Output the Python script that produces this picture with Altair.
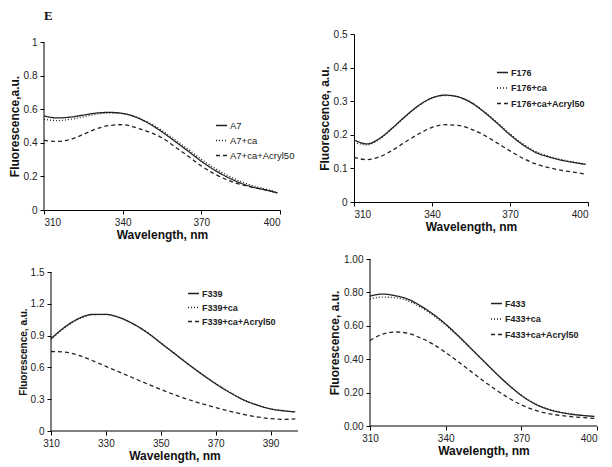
import altair as alt
import pandas as pd

WL = [310, 315, 320, 325, 330, 335, 340, 345, 350, 355, 360, 365, 370, 375, 380, 385, 390, 395, 399]

# Panel 1 (A7)
A7_NAMES = ["A7", "A7+ca", "A7+ca+Acryl50"]
A7 = [0.56, 0.548, 0.553, 0.565, 0.577, 0.581, 0.575, 0.553, 0.515, 0.465, 0.408, 0.35, 0.29, 0.238, 0.195, 0.16, 0.135, 0.118, 0.102]
A7_CA = [0.54, 0.532, 0.54, 0.555, 0.57, 0.577, 0.573, 0.554, 0.52, 0.473, 0.418, 0.361, 0.302, 0.25, 0.206, 0.17, 0.143, 0.123, 0.105]
A7_AC = [0.415, 0.408, 0.42, 0.45, 0.483, 0.503, 0.508, 0.49, 0.465, 0.43, 0.375, 0.32, 0.262, 0.215, 0.178, 0.152, 0.133, 0.118, 0.102]

# Panel 2 (F176)
F176_NAMES = ["F176", "F176+ca", "F176+ca+Acryl50"]
F176 = [0.185, 0.173, 0.19, 0.222, 0.257, 0.288, 0.31, 0.318, 0.313, 0.296, 0.268, 0.235, 0.2, 0.17, 0.147, 0.134, 0.124, 0.117, 0.112]
F176_CA = [0.178, 0.17, 0.188, 0.22, 0.255, 0.287, 0.309, 0.317, 0.313, 0.297, 0.27, 0.237, 0.203, 0.173, 0.15, 0.136, 0.126, 0.118, 0.113]
F176_AC = [0.133, 0.126, 0.135, 0.155, 0.18, 0.203, 0.222, 0.23, 0.228, 0.217, 0.199, 0.176, 0.152, 0.13, 0.113, 0.102, 0.094, 0.088, 0.083]

# Panel 3 (F339)
F339_NAMES = ["F339", "F339+ca", "F339+ca+Acryl50"]
F339 = [0.87, 0.98, 1.06, 1.1, 1.1, 1.07, 1.01, 0.93, 0.83, 0.73, 0.63, 0.535, 0.445, 0.365, 0.295, 0.245, 0.208, 0.19, 0.18]
F339_CA = [0.865, 0.975, 1.055, 1.095, 1.098, 1.068, 1.008, 0.93, 0.832, 0.733, 0.633, 0.538, 0.448, 0.368, 0.298, 0.247, 0.21, 0.19, 0.18]
F339_AC = [0.75, 0.745, 0.715, 0.665, 0.61, 0.555, 0.5, 0.445, 0.392, 0.342, 0.297, 0.257, 0.222, 0.188, 0.158, 0.133, 0.117, 0.11, 0.115]

# Panel 4 (F433)
F433_NAMES = ["F433", "F433+ca", "F433+ca+Acryl50"]
F433 = [0.778, 0.79, 0.78, 0.76, 0.72, 0.67, 0.61, 0.54, 0.465, 0.39, 0.315, 0.245, 0.183, 0.135, 0.103, 0.083, 0.07, 0.062, 0.057]
F433_CA = [0.76, 0.772, 0.768, 0.75, 0.712, 0.663, 0.604, 0.536, 0.463, 0.389, 0.315, 0.246, 0.185, 0.138, 0.105, 0.085, 0.072, 0.063, 0.058]
F433_AC = [0.512, 0.55, 0.563, 0.555, 0.528, 0.49, 0.44, 0.385, 0.327, 0.27, 0.216, 0.167, 0.127, 0.097, 0.077, 0.064, 0.056, 0.05, 0.046]

X_TICKS_A = [310, 340, 370, 400]
X_TICKS_B = [310, 330, 350, 370, 390]
Y_TICKS_1 = [0, 0.2, 0.4, 0.6, 0.8, 1.0]
Y_TICKS_2 = [0, 0.1, 0.2, 0.3, 0.4, 0.5]
Y_TICKS_3 = [0, 0.3, 0.6, 0.9, 1.2, 1.5]
Y_TICKS_4 = [0, 0.2, 0.4, 0.6, 0.8, 1.0]

X_MIN, X_MAX = 310, 400
DASHES = [[1, 0], [1, 2], [4, 3]]
FONT = "Liberation Sans"
INK = "#222222"


def long_df(names, series):
    rows = []
    for n, vals in zip(names, series):
        for w, v in zip(WL, vals):
            rows.append({"wl": w, "val": v, "series": n})
    return pd.DataFrame(rows)


def panel(names, series, yticks, xticks, yfmt, ytitle, ytitle_size,
          plot_w, plot_h, ext_left, ext_top, legend_xy, legend_row_pad,
          legend_weight, legend_size, title=None):
    ymax = yticks[-1]
    cell_w = plot_w + ext_left
    cell_h = plot_h + ext_top
    xlo = X_MIN - ext_left * (X_MAX - X_MIN) / plot_w
    yhi = ymax + ext_top * ymax / plot_h
    hide_x = ext_left > 0
    hide_y = ext_top > 0 or ext_left > 0

    df = long_df(names, series)
    xscale = alt.Scale(domain=[xlo, X_MAX], nice=False, zero=False)
    yscale = alt.Scale(domain=[0, yhi], nice=False, zero=False)
    xaxis = alt.Axis(values=xticks, title="Wavelength, nm", domain=not hide_x,
                     format="d", titleX=ext_left + plot_w / 2)
    yaxis = alt.Axis(values=yticks, title=ytitle, format=yfmt, domain=not hide_y,
                     offset=-ext_left, titleFontSize=ytitle_size,
                     titleY=ext_top + plot_h / 2)

    lines = alt.Chart(df).mark_line(
        interpolate="monotone", color=INK, strokeWidth=1.3
    ).encode(
        x=alt.X("wl:Q", scale=xscale, axis=xaxis),
        y=alt.Y("val:Q", scale=yscale, axis=yaxis),
        strokeDash=alt.StrokeDash(
            "series:N",
            scale=alt.Scale(domain=names, range=DASHES),
            legend=alt.Legend(
                title=None, orient="none", legendX=legend_xy[0], legendY=legend_xy[1],
                symbolType="stroke", symbolSize=121, symbolStrokeWidth=1.3,
                symbolStrokeColor=INK, labelFont=FONT, labelFontSize=legend_size,
                labelFontWeight=legend_weight, labelColor=INK, labelOffset=2,
                rowPadding=legend_row_pad, padding=0,
            ),
        ),
    )
    layers = [lines]
    if hide_x:
        xr = pd.DataFrame({"wl": [X_MIN], "x1": [X_MAX], "val": [0]})
        layers.append(alt.Chart(xr).mark_rule(color="black", strokeWidth=1).encode(
            x=alt.X("wl:Q", scale=xscale, axis=xaxis), x2="x1:Q",
            y=alt.Y("val:Q", scale=yscale, axis=yaxis)))
    if hide_y:
        yr = pd.DataFrame({"wl": [X_MIN], "val": [0], "y1": [ymax]})
        layers.append(alt.Chart(yr).mark_rule(color="black", strokeWidth=1).encode(
            x=alt.X("wl:Q", scale=xscale, axis=xaxis),
            y=alt.Y("val:Q", scale=yscale, axis=yaxis), y2="y1:Q"))
    props = dict(width=cell_w, height=cell_h)
    if title is not None:
        props["title"] = title
    return alt.layer(*layers).properties(**props)


title_e = alt.TitleParams("E", anchor="start", frame="group", font="Liberation Serif",
                          fontSize=13, fontWeight="bold", color="#111111",
                          offset=1, baseline="alphabetic")

p1 = panel(A7_NAMES, [A7, A7_CA, A7_AC], Y_TICKS_1, X_TICKS_A, "~g", "Fluorescence,a.u.", 12,
           236, 168, 0, 8, (171, 85), 4, "normal", 9.5, title=title_e)
p2 = panel(F176_NAMES, [F176, F176_CA, F176_AC], Y_TICKS_2, X_TICKS_A, "~g", "Fluorescence, a.u.", 12,
           234, 168, 0, 0, (142, 32), 3.5, "bold", 9)
p3 = panel(F339_NAMES, [F339, F339_CA, F339_AC], Y_TICKS_3, X_TICKS_B, "~g", "Fluorescence, a.u.", 10,
           247, 159, 7, 13, (143, 28), 2, "bold", 9)
p4 = panel(F433_NAMES, [F433, F433_CA, F433_AC], Y_TICKS_4, X_TICKS_A, ".2f", "Fluorescence, a.u.", 12,
           227, 167, 16, 0, (136, 38), 3.5, "bold", 9)

chart = alt.concat(p1, p2, p3, p4, columns=2).properties(
    spacing={"row": 49, "column": 56}, bounds="flush", align="none",
    padding={"left": 0, "top": 2, "right": 5, "bottom": 5},
).resolve_scale(strokeDash="independent").resolve_legend(
    strokeDash="independent"
).configure_view(stroke=None).configure_axis(
    grid=False, domainColor="black", tickColor="black", tickSize=4,
    labelFont=FONT, labelFontSize=10, labelColor=INK, labelPadding=3,
    titleFont=FONT, titleFontSize=12, titleFontWeight="bold", titleColor="#111111",
    titlePadding=2,
)

chart.save("out.html", embed_options={"renderer": "svg", "actions": False})
